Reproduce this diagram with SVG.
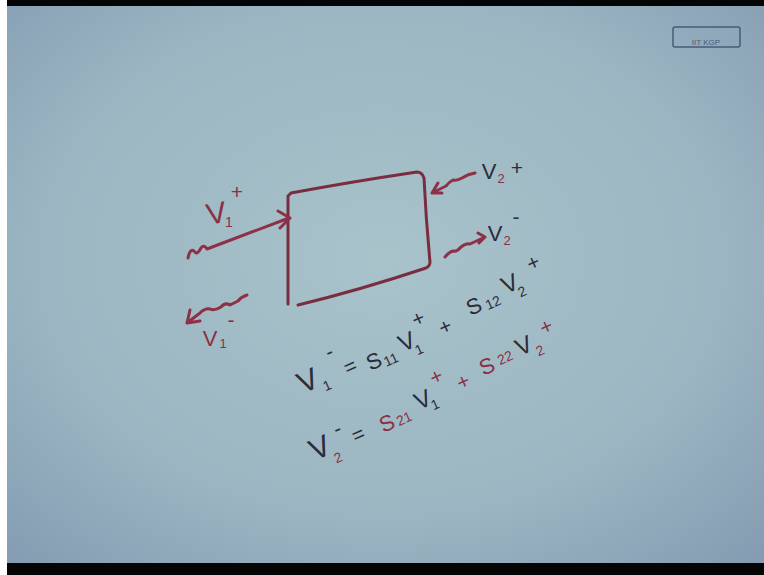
<svg xmlns="http://www.w3.org/2000/svg" width="764" height="575" viewBox="0 0 764 575">
<defs>
<radialGradient id="bg" cx="0.5" cy="0.45" r="0.75">
<stop offset="0" stop-color="#a9c3cb"/>
<stop offset="0.6" stop-color="#9bb5c2"/>
<stop offset="1" stop-color="#8299b0"/>
</radialGradient>
<style>
.ink{fill:none;stroke:#7a2d40;stroke-width:3;stroke-linecap:round;stroke-linejoin:round}
.arr{fill:none;stroke:#8e3047;stroke-width:3;stroke-linecap:round;stroke-linejoin:round}
text{font-family:"Liberation Sans","DejaVu Sans",sans-serif;text-anchor:middle}
.k{fill:#2c2b3a}
.r{fill:#8a3045}
.big{font-size:30px}
.mid{font-size:24px}
.s{font-size:22px}
.sub{font-size:14px}
.op{font-size:21px}
.lab{font-size:22px}
.ls{font-size:13px}
</style>
</defs>
<rect x="0" y="0" width="764" height="575" fill="url(#bg)"/>
<rect x="0" y="0" width="764" height="6" fill="#050505"/>
<rect x="0" y="563" width="764" height="12" fill="#050505"/>
<rect x="0" y="0" width="7" height="575" fill="#ffffff"/>

<g id="logo">
<rect x="673" y="27" width="67" height="20" rx="2" fill="none" stroke="#4a5a78" stroke-width="1.5"/>
<text x="706" y="45" font-size="8" fill="#4a5a78">IIT KGP</text>
</g>

<g id="two-port">
<path class="ink" d="M288,196 L291,193 Q350,182 417,172 Q422,172 424,178 Q426,220 430,262 Q430,266 426,268 Q360,290 298,305 M288,196 L288,304"/>
</g>

<g id="connectors">
<path class="arr" d="M188,258 Q190,248 194,251 Q197,256 201,248 Q204,244 207,249 L289,218 M278,211 L290,218 L280,228"/>
<path class="arr" d="M247,295 Q241,297 238,301 Q234,303 230,305 Q225,302 221,307 Q215,311 210,309 Q205,308 200,313 L187,323 M190,310 L187,323 L200,321"/>
<path class="arr" d="M475,173 Q468,174 462,178 Q457,181 453,180 Q449,182 446,186 L432,193 M438,183 L432,193 L442,193"/>
<path class="arr" d="M445,257 Q449,252 453,251 Q457,252 461,247 Q466,243 470,244 L485,237 M478,233 L485,237 L479,243"/>
</g>

<g id="labels">
<g transform="rotate(-10 220 223)"><text class="r big" x="218" y="223">V</text></g>
<text class="r sub" x="229" y="227">1</text>
<text class="r op" x="237" y="199">+</text>

<text class="r lab" x="210" y="346">V</text>
<text class="r ls" x="223" y="348">1</text>
<text class="r op" x="231" y="327">-</text>

<text class="k lab" x="489" y="179">V</text>
<text class="r ls" x="501" y="183">2</text>
<text class="k op" x="517" y="175">+</text>

<text class="k lab" x="495" y="241">V</text>
<text class="r ls" x="507" y="245">2</text>
<text class="k op" x="516" y="224">-</text>
</g>

<g id="equation1">
<text class="k big" x="312" y="390" transform="rotate(-24 312 390)">V</text>
<text class="k sub" x="329" y="390" transform="rotate(-24 329 390)">1</text>
<text class="k op" x="332" y="358" transform="rotate(-24 332 358)">-</text>
<text class="k op" x="353" y="373" transform="rotate(-24 353 373)">=</text>
<text class="k s" x="377" y="368" transform="rotate(-24 377 368)">S</text>
<text class="k sub" x="393" y="364" transform="rotate(-24 393 364)">11</text>
<text class="k mid" x="410" y="349" transform="rotate(-24 410 349)">V</text>
<text class="k sub" x="421" y="354" transform="rotate(-24 421 354)">1</text>
<text class="k op" x="421" y="325" transform="rotate(-24 421 325)">+</text>
<text class="k op" x="448" y="333" transform="rotate(-24 448 333)">+</text>
<text class="k s" x="477" y="313" transform="rotate(-24 477 313)">S</text>
<text class="k sub" x="495" y="307" transform="rotate(-24 495 307)">12</text>
<text class="k mid" x="513" y="291" transform="rotate(-24 513 291)">V</text>
<text class="k sub" x="524" y="296" transform="rotate(-24 524 296)">2</text>
<text class="k op" x="536" y="269" transform="rotate(-24 536 269)">+</text>
</g>

<g id="equation2">
<text class="k big" x="324" y="457" transform="rotate(-24 324 457)">V</text>
<text class="r sub" x="340" y="462" transform="rotate(-24 340 462)">2</text>
<text class="k op" x="340" y="435" transform="rotate(-24 340 435)">-</text>
<text class="k op" x="361" y="441" transform="rotate(-24 361 441)">=</text>
<text class="r s" x="390" y="430" transform="rotate(-24 390 430)">S</text>
<text class="r sub" x="406" y="423" transform="rotate(-24 406 423)">21</text>
<text class="k mid" x="426" y="407" transform="rotate(-24 426 407)">V</text>
<text class="k sub" x="437" y="409" transform="rotate(-24 437 409)">1</text>
<text class="r op" x="439" y="383" transform="rotate(-24 439 383)">+</text>
<text class="r op" x="466" y="388" transform="rotate(-24 466 388)">+</text>
<text class="r s" x="490" y="373" transform="rotate(-24 490 373)">S</text>
<text class="r sub" x="507" y="362" transform="rotate(-24 507 362)">22</text>
<text class="k mid" x="527" y="353" transform="rotate(-24 527 353)">V</text>
<text class="r sub" x="542" y="355" transform="rotate(-24 542 355)">2</text>
<text class="r op" x="549" y="333" transform="rotate(-24 549 333)">+</text>
</g>
</svg>
